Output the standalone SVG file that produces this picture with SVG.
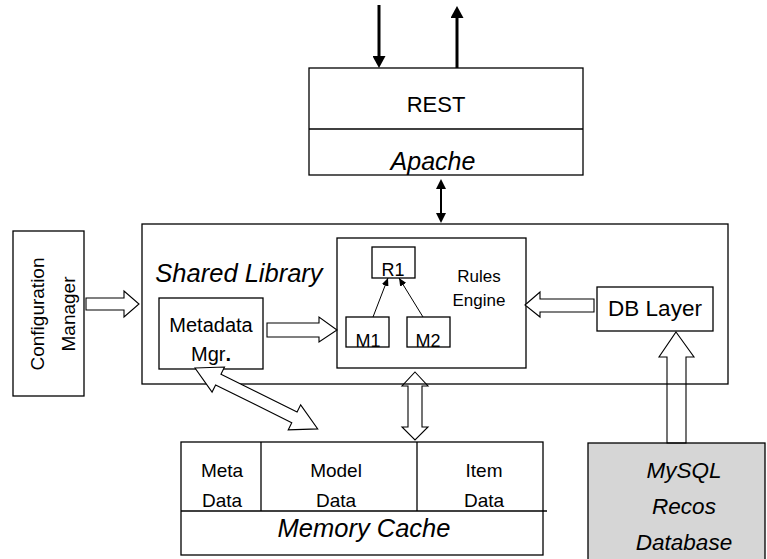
<svg xmlns="http://www.w3.org/2000/svg" width="767" height="559" viewBox="0 0 767 559">
  <style>
    .box { fill: #ffffff; stroke: #000000; stroke-width: 1.3; }
    .db { fill: #d6d6d6; stroke: #000000; stroke-width: 1.3; }
    .sep { stroke: #000000; stroke-width: 1.3; fill: none; }
    .hollow { fill: #ffffff; stroke: #000000; stroke-width: 1.1; stroke-linejoin: miter; }
    .open { fill: none; stroke: #000000; stroke-width: 1.1; }
    .t { font-family: "Liberation Sans", Arial, sans-serif; fill: #000000; text-anchor: middle; }
    .i { font-style: italic; }
    .wire { stroke: #000000; fill: none; }
  </style>
  <defs>
    <marker id="headBig" viewBox="0 0 12 13" refX="0" refY="6.5" markerWidth="12" markerHeight="13" markerUnits="userSpaceOnUse" orient="auto-start-reverse">
      <path d="M0,0 L12,6.5 L0,13 z" fill="#000000"/>
    </marker>
    <marker id="headMid" viewBox="0 0 10 10" refX="0" refY="5" markerWidth="10" markerHeight="10" markerUnits="userSpaceOnUse" orient="auto-start-reverse">
      <path d="M0,0 L10,5 L0,10 z" fill="#000000"/>
    </marker>
    <marker id="headSmall" viewBox="0 0 8 7" refX="8" refY="3.5" markerWidth="8" markerHeight="7" markerUnits="userSpaceOnUse" orient="auto">
      <path d="M0,0 L8,3.5 L0,7 z" fill="#000000"/>
    </marker>
  </defs>

  <!-- REST / Apache front end -->
  <g id="rest">
    <rect class="box" x="309" y="68" width="274" height="107"/>
    <line class="sep" x1="309" y1="129" x2="583" y2="129"/>
    <text class="t" x="436" y="112" font-size="22">REST</text>
    <text class="t i" x="433" y="170" font-size="25">Apache</text>
  </g>

  <!-- Configuration manager -->
  <g id="config">
    <rect class="box" x="13" y="231" width="71" height="165"/>
    <text class="t" font-size="19" transform="translate(44,314) rotate(-90)">Configuration</text>
    <text class="t" font-size="19" transform="translate(75,314) rotate(-90)">Manager</text>
  </g>

  <!-- Shared library container -->
  <g id="shared-library">
    <rect class="box" x="142" y="224" width="586" height="160"/>
    <text class="t i" x="239" y="282" font-size="25.5">Shared Library</text>
  </g>

  <g id="metadata-mgr">
    <rect class="box" x="159" y="298" width="104" height="71"/>
    <text class="t" x="211" y="332" font-size="20">Metadata</text>
    <text class="t" x="211" y="361" font-size="20">Mgr<tspan font-weight="bold">.</tspan></text>
  </g>

  <g id="rules-engine">
    <rect class="box" x="337" y="238" width="189" height="130"/>
    <text class="t" x="479" y="282" font-size="17">Rules</text>
    <text class="t" x="479" y="306" font-size="17">Engine</text>
  </g>

  <g id="r1">
    <rect class="box" x="372" y="247" width="43" height="31"/>
    <text class="t" x="393" y="276" font-size="18">R1</text>
  </g>

  <g id="m1">
    <rect class="box" x="346" y="317" width="43" height="30"/>
    <text class="t" x="368" y="347" font-size="18">M1</text>
  </g>

  <g id="m2">
    <rect class="box" x="407" y="317" width="43" height="30"/>
    <text class="t" x="428" y="347" font-size="18">M2</text>
  </g>

  <g id="db-layer">
    <rect class="box" x="597" y="287" width="116" height="44"/>
    <text class="t" x="655" y="316" font-size="22.5">DB Layer</text>
  </g>

  <!-- Memory cache -->
  <g id="memory-cache">
    <rect class="box" x="181" y="442" width="362" height="113"/>
    <line class="sep" x1="181" y1="511" x2="547" y2="511"/>
    <line class="sep" x1="261" y1="442" x2="261" y2="511"/>
    <line class="sep" x1="417" y1="442" x2="417" y2="511"/>
    <text class="t" x="222" y="477" font-size="19">Meta</text>
    <text class="t" x="222" y="507" font-size="19">Data</text>
    <text class="t" x="336" y="477" font-size="19">Model</text>
    <text class="t" x="336" y="507" font-size="19">Data</text>
    <text class="t" x="484" y="477" font-size="19">Item</text>
    <text class="t" x="484" y="507" font-size="19">Data</text>
    <text class="t i" x="364" y="537" font-size="25.5">Memory Cache</text>
  </g>

  <!-- MySQL database -->
  <g id="mysql">
    <rect class="db" x="588" y="443" width="177" height="130"/>
    <text class="t i" x="684" y="478" font-size="22.5">MySQL</text>
    <text class="t i" x="684" y="514" font-size="22.5">Recos</text>
    <text class="t i" x="684" y="550" font-size="22.5">Database</text>
  </g>

  <!-- Connectors -->
  <g id="connectors">
    <!-- request / response -->
    <line class="wire" stroke-width="3" x1="379" y1="5" x2="379" y2="56" marker-end="url(#headBig)"/>
    <line class="wire" stroke-width="3" x1="457" y1="68" x2="457" y2="18" marker-end="url(#headBig)"/>
    <!-- Apache <-> shared library -->
    <line class="wire" stroke-width="2" x1="441" y1="189" x2="441" y2="213" marker-start="url(#headMid)" marker-end="url(#headMid)"/>
    <!-- models feed the rule -->
    <line class="wire" stroke-width="1" x1="373" y1="317" x2="388" y2="278" marker-end="url(#headSmall)"/>
    <line class="wire" stroke-width="1" x1="423" y1="317" x2="399" y2="278" marker-end="url(#headSmall)"/>
    <!-- block arrows -->
    <polygon class="hollow" points="86,298 124,298 124,291 139,304 124,317 124,310 86,310"/>
    <polygon class="hollow" points="267,323 319,323 319,317 337,330 319,342 319,337 267,337"/>
    <polygon class="hollow" points="525,305 540,292 540,299 594,299 594,312 540,312 540,317"/>
    <polygon class="open" points="676,332 694,357 686,357 686,443 667,443 667,357 659,357"/>
    <polygon class="open" points="415,372 428,386 422,386 422,427 428,427 415,440 402,427 408,427 408,386 402,386"/>
    <polygon class="hollow" transform="translate(195,368) rotate(26.4)" points="0,0 26,-14 26,-6 111,-6 111,-14 137,0 111,14 111,6 26,6 26,14"/>
  </g>
</svg>
